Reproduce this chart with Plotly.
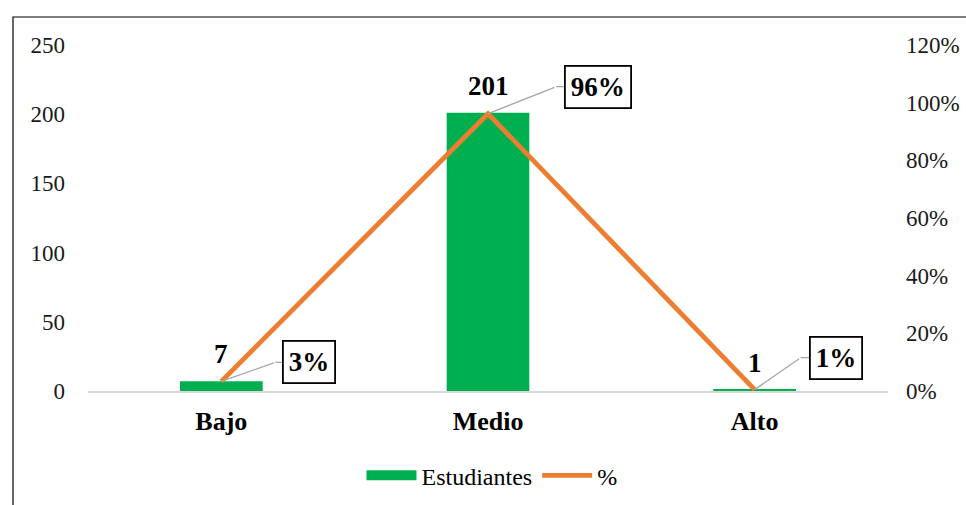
import plotly.graph_objects as go

categories = ["Bajo", "Medio", "Alto"]
estudiantes = [7, 201, 1]
porcentaje = [0.0335, 0.9617, 0.0048]
pct_labels = ["3%", "96%", "1%"]

FONT = "Liberation Serif"

fig = go.Figure()
fig.add_trace(go.Bar(
    x=categories, y=estudiantes, name="Estudiantes", showlegend=False,
    marker=dict(color="#00B050", line=dict(width=0)),
    width=0.31,
))
fig.add_trace(go.Scatter(
    x=[None], y=[None], name="Estudiantes", mode="lines",
    line=dict(color="#00B050", width=10), legendrank=1,
))
fig.add_trace(go.Scatter(
    x=categories, y=porcentaje, name="%", yaxis="y2",
    mode="lines", line=dict(color="#ED7D31", width=4.8), legendrank=2,
))

annotations = []
for c, v in zip(categories, estudiantes):
    annotations.append(dict(
        x=c, y=v, xref="x", yref="y", text=f"<b>{v}</b>", showarrow=False,
        yshift=27, font=dict(family=FONT, size=27, color="black"),
    ))

# callout geometry in pixels: (bend dx, bend dy up, horizontal length)
callouts = [(54, 19, 10), (68, 27, 11), (46, 32, 11)]
LEADER = "#A6A6A6"
for c, p, t, (bx, by, hl) in zip(categories, porcentaje, pct_labels, callouts):
    annotations.append(dict(
        x=c, y=p, xref="x", yref="y2", text="", showarrow=True,
        arrowhead=0, arrowwidth=1.3, arrowcolor=LEADER, ax=bx, ay=-by,
        standoff=0, startstandoff=0,
    ))
    annotations.append(dict(
        x=c, y=p, xref="x", yref="y2", text="", showarrow=True,
        xshift=bx, yshift=by,
        arrowhead=0, arrowwidth=1.3, arrowcolor=LEADER, ax=hl, ay=0,
        standoff=0, startstandoff=0,
    ))
    annotations.append(dict(
        x=c, y=p, xref="x", yref="y2", text=f"<b>{t}</b>", showarrow=False,
        xshift=bx + hl - 3, yshift=by, xanchor="left", yanchor="middle",
        bordercolor="black", borderwidth=1.8, borderpad=5, bgcolor="white",
        font=dict(family=FONT, size=27, color="black"),
    ))

fig.update_layout(
    width=966, height=505,
    margin=dict(l=88, r=78, t=45, b=114, autoexpand=False),
    paper_bgcolor="white", plot_bgcolor="white",
    font=dict(family=FONT, size=23, color="#1a1a1a"),
    showlegend=True,
    legend=dict(orientation="h", x=0.505, y=-0.245, xanchor="center", yanchor="middle",
                font=dict(family=FONT, size=24, color="black"), traceorder="normal",
                itemwidth=50),
    xaxis=dict(
        showgrid=False, showline=True, linecolor="#D9D9D9", linewidth=1.5,
        ticks="", tickfont=dict(family=FONT, size=26, color="black"),
        ticklabelstandoff=6, automargin=False,
        tickvals=categories, ticktext=[f"<b>{c}</b>" for c in categories],
    ),
    yaxis=dict(
        range=[0, 250], dtick=50, showgrid=False, showline=False, zeroline=False,
        ticks="", tickfont=dict(family=FONT, size=23, color="#1a1a1a"),
        ticklabelstandoff=22, automargin=False,
    ),
    yaxis2=dict(
        range=[0, 1.2], dtick=0.2, tickformat=".0%", overlaying="y", side="right",
        showgrid=False, showline=False, zeroline=False, ticks="",
        tickfont=dict(family=FONT, size=23, color="#1a1a1a"),
        ticklabelstandoff=17, automargin=False,
    ),
    annotations=annotations,
    shapes=[dict(type="rect", xref="paper", yref="paper",
                 x0=(13 - 88) / 800, x1=1.3, y0=-0.6, y1=(391 - 17) / 346,
                 line=dict(color="black", width=1.2), layer="below")],
)

fig.write_html("out.html", config={"displayModeBar": False},
               post_script="document.body.style.margin='0';")
